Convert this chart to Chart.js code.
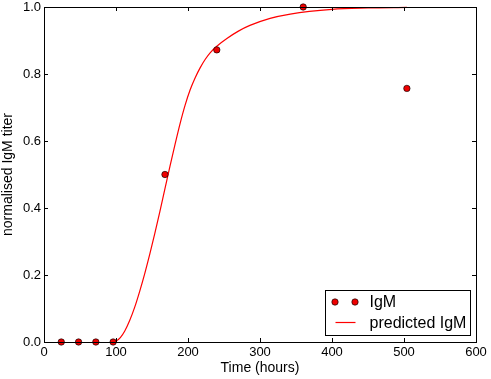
<!DOCTYPE html>
<html>
<head>
<meta charset="utf-8">
<script src="https://cdn.jsdelivr.net/npm/chart.js@4"></script>
<style>
  html, body { margin: 0; padding: 0; background: #fff; }
  #wrap { width: 491px; height: 379px; }
</style>
</head>
<body>
<div id="wrap"><canvas id="igm-chart" width="491" height="379"></canvas></div>
<script>
// measured IgM (time in hours, normalised titer)
const igmHours = [24, 48, 72, 96, 168, 240, 360, 504];
const igmTiter = [0, 0, 0, 0, 0.5, 0.872, 1.0, 0.757];

// predicted curve
const predHours = [96, 101, 106, 112, 119, 126, 133, 140, 147, 154, 161, 168, 175, 182, 189, 196, 203, 210, 217, 224, 231, 240, 254, 270, 286, 314, 342, 400, 450, 504];
const predTiter = [0, 0.004, 0.013, 0.032, 0.064, 0.104, 0.152, 0.205, 0.263, 0.325, 0.39, 0.458, 0.525, 0.59, 0.652, 0.707, 0.753, 0.789, 0.819, 0.844, 0.864, 0.883, 0.906, 0.928, 0.945, 0.966, 0.979, 0.993, 0.997, 0.999];

const xTicks = [0, 100, 200, 300, 400, 500, 600];
const yTicks = [0, 0.2, 0.4, 0.6, 0.8, 1.0];

const FONT = "'Liberation Sans', Arial, sans-serif";
const RED = "#ff0000";

// matplotlib-like frame with inward ticks
var frameTicks = {
  id: "frameTicks",
  afterDatasetsDraw(chart) {
    const { ctx, chartArea: { top, bottom, left, right }, scales: { x, y } } = chart;
    ctx.save();
    ctx.strokeStyle = "#000";
    ctx.lineWidth = 1;
    ctx.beginPath();
    xTicks.forEach(function (v) {
      const px = Math.round(x.getPixelForValue(v)) + 0.5;
      ctx.moveTo(px, bottom); ctx.lineTo(px, bottom - 4);
      ctx.moveTo(px, top); ctx.lineTo(px, top + 4);
    });
    yTicks.forEach(function (v) {
      const py = Math.round(y.getPixelForValue(v)) + 0.5;
      ctx.moveTo(left, py); ctx.lineTo(left + 4, py);
      ctx.moveTo(right, py); ctx.lineTo(right - 4, py);
    });
    ctx.stroke();
    ctx.strokeRect(Math.round(left) + 0.5, Math.round(top) + 0.5, Math.round(right - left), Math.round(bottom - top));
    ctx.restore();
  },
  afterDraw(chart) {
    // legend box, lower right like matplotlib loc=4
    const { ctx, chartArea: { bottom, right } } = chart;
    const ds = chart.data.datasets;
    const w = 145, h = 45;
    const bx = Math.round(right - 6 - w) + 0.5, by = Math.round(bottom - 7 - h) + 0.5;
    ctx.save();
    ctx.fillStyle = "#fff";
    ctx.fillRect(bx, by, w, h);
    ctx.strokeStyle = "#000";
    ctx.lineWidth = 1;
    ctx.strokeRect(bx, by, w, h);

    const row1 = by + 11.5, row2 = by + 32;
    [bx + 9.5, bx + 29.5].forEach(function (mx) {
      ctx.beginPath();
      ctx.arc(mx, row1, 3.2, 0, Math.PI * 2);
      ctx.fillStyle = ds[0].backgroundColor;
      ctx.fill();
      ctx.lineWidth = 0.8;
      ctx.strokeStyle = ds[0].borderColor;
      ctx.stroke();
    });
    ctx.beginPath();
    ctx.moveTo(bx + 10, row2);
    ctx.lineTo(bx + 30, row2);
    ctx.strokeStyle = ds[1].borderColor;
    ctx.lineWidth = 1.2;
    ctx.stroke();

    ctx.font = "16px " + FONT;
    ctx.fillStyle = "#000";
    ctx.textBaseline = "middle";
    ctx.textAlign = "left";
    ctx.fillText(ds[0].label, bx + 44, row1 + 1);
    ctx.fillText(ds[1].label, bx + 44, row2 + 1);
    ctx.restore();
  },
};

const igmChart = new Chart(document.getElementById("igm-chart"), {
  type: "scatter",
  data: {
    datasets: [
      {
        label: "IgM",
        data: igmHours.map((h, i) => ({ x: h, y: igmTiter[i] })),
        showLine: false,
        pointRadius: 3.2,
        pointHoverRadius: 3.2,
        backgroundColor: "#ee0000",
        borderColor: "rgba(0,0,0,0.8)",
        borderWidth: 0.8,
        clip: false,
        order: 0,
      },
      {
        label: "predicted IgM",
        data: predHours.map((h, i) => ({ x: h, y: predTiter[i] })),
        showLine: true,
        pointRadius: 0,
        borderColor: RED,
        borderWidth: 1.2,
        cubicInterpolationMode: "monotone",
        clip: 2,
        order: 1,
      },
    ],
  },
  options: {
    responsive: false,
    animation: false,
    events: [],
    layout: { padding: { top: 7, right: 15, left: 0, bottom: 0 } },
    plugins: { legend: { display: false }, tooltip: { enabled: false } },
    scales: {
      x: {
        type: "linear",
        min: 0,
        max: 600,
        afterBuildTicks(scale) { scale.ticks = xTicks.map(v => ({ value: v })); },
        afterFit(scale) { scale.height = 37; scale.paddingLeft = 0; scale.paddingRight = 0; },
        grid: { display: false, drawTicks: false },
        border: { display: false },
        ticks: { color: "#000", padding: 3, font: { family: FONT, size: 13 }, maxRotation: 0 },
        title: { display: true, text: "Time (hours)", color: "#000", font: { family: FONT, size: 14, lineHeight: 1.1 }, padding: { top: 0, bottom: 3 } },
      },
      y: {
        type: "linear",
        min: 0,
        max: 1,
        afterBuildTicks(scale) { scale.ticks = yTicks.map(v => ({ value: v })); },
        afterFit(scale) { scale.width = 44; scale.paddingTop = 0; scale.paddingBottom = 0; },
        grid: { display: false, drawTicks: false },
        border: { display: false },
        ticks: { color: "#000", padding: 3, font: { family: FONT, size: 13 }, callback: v => v.toFixed(1) },
        title: { display: true, text: "normalised IgM titer", color: "#000", font: { family: FONT, size: 14, lineHeight: 1.1 }, padding: { top: 0, bottom: 0 } },
      },
    },
  },
  plugins: [frameTicks],
});
</script>
</body>
</html>
